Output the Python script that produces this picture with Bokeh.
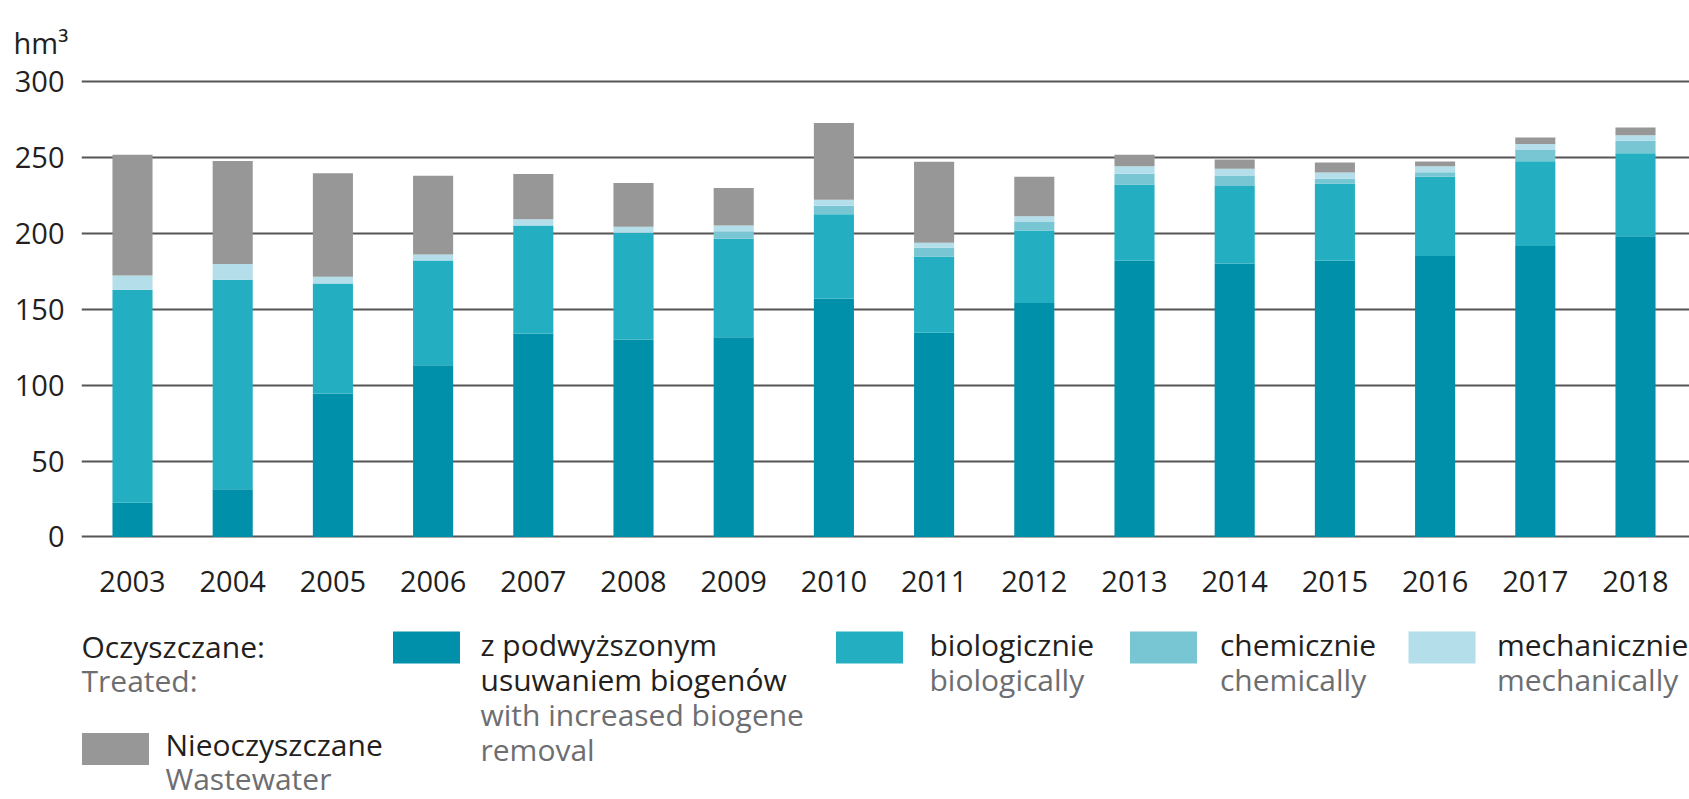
from bokeh.plotting import figure
from bokeh.models import Range1d, FixedTicker, ColumnDataSource, Title
from bokeh.layouts import column
from bokeh.core.properties import value
from bokeh.embed import file_html
from bokeh.resources import INLINE

# ---- data (hm3) ----
years = [2003, 2004, 2005, 2006, 2007, 2008, 2009, 2010,
         2011, 2012, 2013, 2014, 2015, 2016, 2017, 2018]
biogene = [22.5, 31.5, 94.5, 113.0, 134.0, 130.0, 131.5, 157.0,
           134.5, 154.0, 182.0, 180.0, 182.0, 185.0, 191.5, 198.0]
biological = [140.2, 137.8, 72.4, 69.0, 71.0, 70.3, 64.8, 55.5,
              50.2, 47.8, 50.1, 51.0, 50.7, 52.1, 55.9, 54.6]
chemical = [0.0, 0.0, 0.0, 0.0, 0.0, 0.0, 5.0, 5.5,
            5.7, 5.5, 7.0, 7.0, 3.1, 3.0, 7.7, 8.2]
mechanical = [9.5, 10.5, 4.4, 4.0, 4.2, 3.9, 3.8, 4.0,
              3.3, 3.9, 5.0, 4.4, 4.2, 4.0, 3.7, 3.7]
untreated = [79.4, 67.8, 68.2, 51.8, 29.7, 28.8, 24.6, 50.5,
             53.3, 26.0, 7.5, 6.1, 6.5, 3.1, 4.2, 5.1]
y_ticks = [0, 50, 100, 150, 200, 250, 300]
unit_label = "hm³"

series_keys = ["biogene", "biological", "chemical", "mechanical", "untreated"]
series_pl = ["z podwyższonym\nusuwaniem biogenów", "biologicznie", "chemicznie",
             "mechanicznie", "Nieoczyszczane"]
series_en = ["with increased biogene\nremoval", "biologically", "chemically",
             "mechanically", "Wastewater"]
treated_pl = "Oczyszczane:"
treated_en = "Treated:"

colors = ["#0090a9", "#23afc1", "#78c5d3", "#b3deea", "#979797"]
DARK = "#231f20"
GREY_TXT = "#6d6e71"
FONT = "Open Sans"
FS_AX = "29px"
FS_LG = "30px"

src = ColumnDataSource(dict(year=years, biogene=biogene, biological=biological,
                            chemical=chemical, mechanical=mechanical,
                            untreated=untreated))

W = 1689
LEFT = 81

# ---- main chart ----
p = figure(width=W, height=605, output_backend="svg", toolbar_location=None,
           x_range=Range1d(2002.491, 2002.491 + (W - LEFT) / 100.2),
           y_range=Range1d(-1.65, 304.48),
           min_border_left=LEFT, min_border_right=0, min_border_top=74,
           min_border_bottom=66)
p.title = Title(text=unit_label, align="left", offset=13 - LEFT,
                text_font=FONT, text_font_size="29px", text_color=DARK,
                text_font_style="normal", standoff=25)
p.outline_line_color = None
p.vbar_stack(series_keys, x="year", width=0.4, color=colors, source=src,
             line_color=None)

p.xgrid.visible = False
p.ygrid.ticker = FixedTicker(ticks=y_ticks)
p.ygrid.grid_line_color = "#555555"
p.ygrid.grid_line_width = 2

p.xaxis.ticker = FixedTicker(ticks=years)
p.yaxis.ticker = FixedTicker(ticks=y_ticks)
for ax in (p.xaxis[0], p.yaxis[0]):
    ax.axis_line_color = None
    ax.major_tick_line_color = None
    ax.minor_tick_line_color = None
    ax.major_tick_out = 0
    ax.major_tick_in = 0
    ax.major_label_text_font = FONT
    ax.major_label_text_font_size = FS_AX
    ax.major_label_text_color = DARK
p.xaxis.major_label_standoff = 31
p.yaxis.major_label_standoff = 17

# ---- legend panel (frame aligned with the chart frame: x in page pixels) ----
H2 = 194
L = figure(width=W, height=H2, output_backend="svg", toolbar_location=None,
           x_range=Range1d(LEFT, W), y_range=Range1d(H2, 0),
           x_axis_type=None, y_axis_type=None,
           min_border_left=LEFT, min_border_right=0, min_border_top=0,
           min_border_bottom=0)
L.outline_line_color = None
L.xgrid.visible = False
L.ygrid.visible = False

box_x = [426, 869, 1163, 1441.5, 115]
box_y = [42, 42, 42, 42, 143.5]
L.rect(x=box_x, y=box_y, width=67, height=32, fill_color=colors, line_color=None)

tx, ty, tt, tc = [], [], [], []
tx += [LEFT, LEFT]; ty += [41, 75]; tt += [treated_pl, treated_en]; tc += [DARK, GREY_TXT]
text_x = [480, 929, 1219.5, 1496.5, 165]
for i in range(5):
    pl_lines = series_pl[i].split("\n")
    en_lines = series_en[i].split("\n")
    y0 = 39 if i < 4 else 139
    for j, s in enumerate(pl_lines):
        tx.append(text_x[i]); ty.append(y0 + 35 * j); tt.append(s); tc.append(DARK)
    for j, s in enumerate(en_lines):
        tx.append(text_x[i]); ty.append(y0 + 35 * (len(pl_lines) + j) - (1 if i == 4 else 0)); tt.append(s); tc.append(GREY_TXT)
L.text(x=tx, y=ty, text=tt, text_color=tc, text_font=value(FONT),
       text_font_size=FS_LG, text_baseline="middle", text_align="left")

layout = column(p, L)
open("out.html", "w").write(file_html(layout, INLINE))
